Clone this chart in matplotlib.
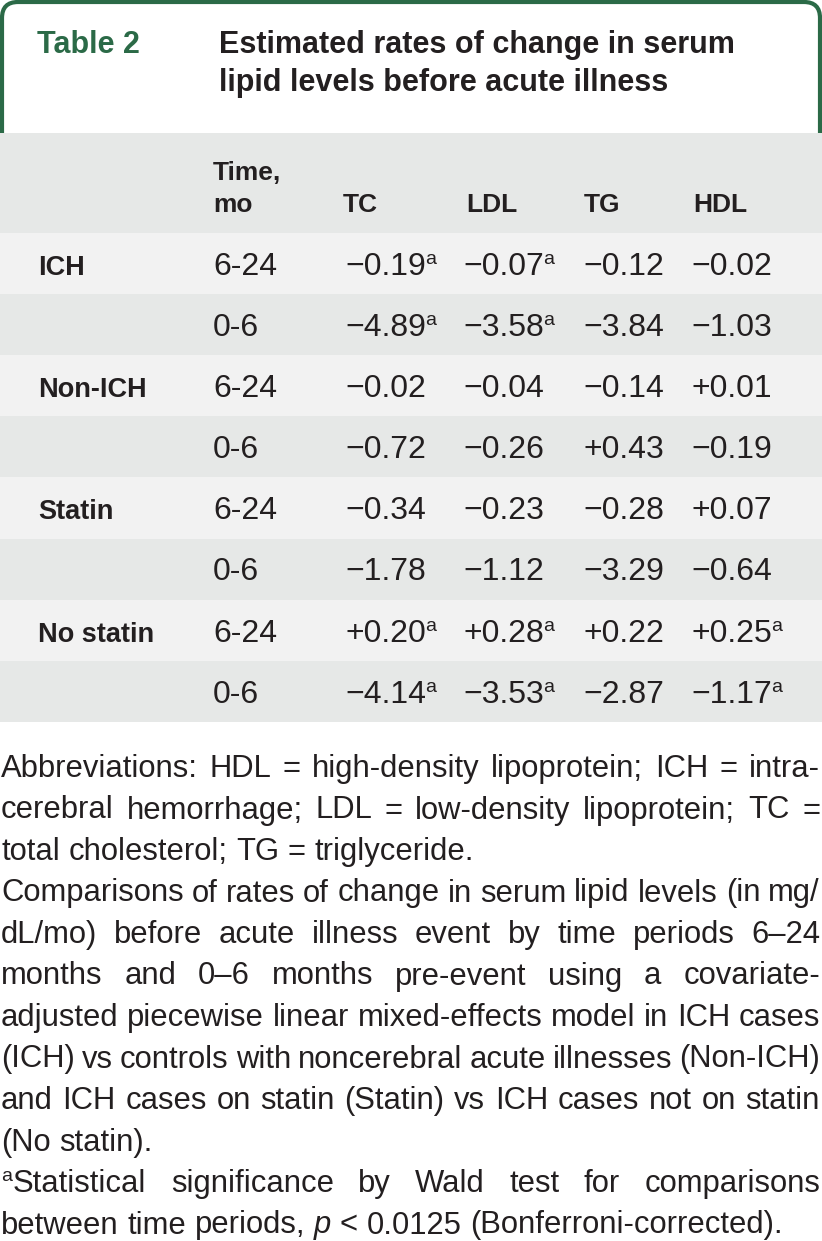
import matplotlib.pyplot as plt
from matplotlib.patches import Rectangle, PathPatch
from matplotlib.path import Path

# table data
groups = ["ICH", "Non-ICH", "Statin", "No statin"]
periods = ["6-24", "0-6"]
columns = ["TC", "LDL", "TG", "HDL"]
tc = [-0.19, -4.89, -0.02, -0.72, -0.34, -1.78, 0.20, -4.14]
ldl = [-0.07, -3.58, -0.04, -0.26, -0.23, -1.12, 0.28, -3.53]
tg = [-0.12, -3.84, -0.14, 0.43, -0.28, -3.29, 0.22, -2.87]
hdl = [-0.02, -1.03, 0.01, -0.19, 0.07, -0.64, 0.25, -1.17]
tc_sig = [1, 1, 0, 0, 0, 0, 1, 1]
ldl_sig = [1, 1, 0, 0, 0, 0, 1, 1]
tg_sig = [0, 0, 0, 0, 0, 0, 0, 0]
hdl_sig = [0, 0, 0, 0, 0, 0, 1, 1]

title_lines = ["Estimated rates of change in serum",
               "lipid levels before acute illness"]

abbrev_lines = [
    "Abbreviations: HDL = high-density lipoprotein; ICH = intra-",
    "cerebral hemorrhage; LDL = low-density lipoprotein; TC =",
    "total cholesterol; TG = triglyceride.",
]
compare_lines = [
    "Comparisons of rates of change in serum lipid levels (in mg/",
    "dL/mo) before acute illness event by time periods 6\u201324",
    "months and 0\u20136 months pre-event using a covariate-",
    "adjusted piecewise linear mixed-effects model in ICH cases",
    "(ICH) vs controls with noncerebral acute illnesses (Non-ICH)",
    "and ICH cases on statin (Statin) vs ICH cases not on statin",
    "(No statin).",
]
note_lines = [
    "Statistical significance by Wald test for comparisons",
    "between time periods, p < 0.0125 (Bonferroni-corrected).",
]

GREEN = "#2b6a47"
INK = "#231f20"
GREY = "#e6e8e7"
LIGHT = "#f2f2f2"
FONT = "Liberation Sans"

W, H = 822, 1241
fig = plt.figure(figsize=(W / 100, H / 100), dpi=100)
ax = fig.add_axes([0, 0, 1, 1])
ax.set_xlim(0, W)
ax.set_ylim(H, 0)
ax.axis("off")
r = fig.canvas.get_renderer()


def width(t):
    return t.get_window_extent(r).width


# green frame round the caption
x0, x1, top, bot, rad = 2, 820, 2, 133, 16
verts = [(x0, bot), (x0, top + rad), (x0, top), (x0 + rad, top),
         (x1 - rad, top), (x1, top), (x1, top + rad), (x1, bot)]
codes = [Path.MOVETO, Path.LINETO, Path.CURVE3, Path.CURVE3,
         Path.LINETO, Path.CURVE3, Path.CURVE3, Path.LINETO]
ax.add_patch(PathPatch(Path(verts, codes), fill=False, ec=GREEN, lw=3.0))

ax.text(37, 53, "Table 2", color=GREEN, fontsize=22, fontweight="bold",
        family=FONT, va="baseline")
for i, line in enumerate(title_lines):
    ax.text(219, 53 + 38 * i, line, color=INK, fontsize=22, fontweight="bold",
            family=FONT, va="baseline")

# header row
ax.add_patch(Rectangle((0, 133), W, 100, color=GREY, lw=0))
col_x = [345, 463, 583, 691]
ax.text(213, 180, "Time,", color=INK, fontsize=19, fontweight="bold", family=FONT, va="baseline")
ax.text(213, 212, "mo", color=INK, fontsize=19, fontweight="bold", family=FONT, va="baseline")
for name, x in zip(columns, [343, 466, 584, 693]):
    ax.text(x, 212, name, color=INK, fontsize=19, fontweight="bold", family=FONT, va="baseline")

# body rows
row_h = 61.1
values = [tc, ldl, tg, hdl]
sigs = [tc_sig, ldl_sig, tg_sig, hdl_sig]
for i in range(8):
    y0 = 233 + i * row_h
    ax.add_patch(Rectangle((0, y0), W, row_h, color=LIGHT if i % 2 == 0 else GREY, lw=0))
    base = y0 + 42
    if i % 2 == 0:
        ax.text(38, base, groups[i // 2], color=INK, fontsize=19.5, fontweight="bold",
                family=FONT, va="baseline")
    ax.text(213, base, periods[i % 2], color=INK, fontsize=23, family=FONT, va="baseline")
    for vals, sg, x in zip(values, sigs, col_x):
        s = f"{vals[i]:+.2f}".replace("-", "\u2212")
        t = ax.text(x, base, s, color=INK, fontsize=23, family=FONT, va="baseline")
        if sg[i]:
            ax.text(x + width(t) - 1, base - 11, "a", color=INK, fontsize=14,
                    family=FONT, va="baseline")

# footnotes, justified like the journal page
FN = 22.3
gap_probe = ax.text(0, 0, "a b", fontsize=FN, family=FONT)
nogap = ax.text(0, 0, "ab", fontsize=FN, family=FONT)
space = width(gap_probe) - width(nogap)
gap_probe.remove()
nogap.remove()


def put_line(line, y, xa, xb, justify):
    words = line.split(" ")
    texts = []
    for w in words:
        style = "italic" if w == "p" else "normal"
        texts.append(ax.text(0, y, w, color=INK, fontsize=FN, family=FONT,
                             style=style, va="baseline"))
    ws = [width(t) for t in texts]
    gap = (xb - xa - sum(ws)) / (len(words) - 1) if justify and len(words) > 1 else space
    x = xa
    for t, w in zip(texts, ws):
        t.set_x(x)
        x += w + gap


y = 777
step = 41.5
for para in [abbrev_lines, compare_lines]:
    for k, line in enumerate(para):
        put_line(line, y, 1, 820, k < len(para) - 1)
        y += step
ax.text(1, y - 11, "a", color=INK, fontsize=14, family=FONT, va="baseline")
for k, line in enumerate(note_lines):
    put_line(line, y, 13 if k == 0 else 1, 820, k < len(note_lines) - 1)
    y += step

fig.savefig("out.png", dpi=100)
